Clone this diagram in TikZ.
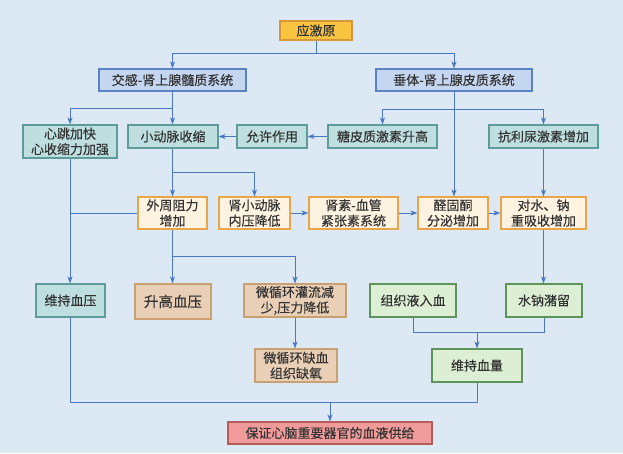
\documentclass[tikz,border=0pt]{standalone}
\usepackage{fontspec}
\setmainfont{Noto Sans CJK SC}[FakeBold=0.25]
\usetikzlibrary{arrows.meta}
\definecolor{bgc}{HTML}{DDE8F5}
\definecolor{arrc}{HTML}{4A78C0}
\definecolor{orgF}{HTML}{F9C440}\definecolor{orgD}{HTML}{D8963A}
\definecolor{bluF}{HTML}{C5D6F0}\definecolor{bluD}{HTML}{5B82C2}
\definecolor{tealF}{HTML}{BEDEDF}\definecolor{tealD}{HTML}{5E9C9C}
\definecolor{crmF}{HTML}{FEF3E0}\definecolor{crmD}{HTML}{E8A54A}
\definecolor{tanF}{HTML}{E8CFB6}\definecolor{tanD}{HTML}{C9A070}
\definecolor{grnF}{HTML}{DCEFD4}\definecolor{grnD}{HTML}{5E9459}
\definecolor{redF}{HTML}{F09A9A}\definecolor{redD}{HTML}{B65A5A}
\definecolor{txtc}{HTML}{333333}
\tikzset{
  box/.style={draw, line width=1.1pt, inner sep=0pt, align=center, text=txtc,
    font=\fontsize{13}{15.5}\selectfont},
  orgbox/.style={box, fill=orgF, draw=orgD},
  blubox/.style={box, fill=bluF, draw=bluD},
  tealbox/.style={box, fill=tealF, draw=tealD},
  crmbox/.style={box, fill=crmF, draw=crmD},
  tanbox/.style={box, fill=tanF, draw=tanD},
  grnbox/.style={box, fill=grnF, draw=grnD},
  redbox/.style={box, fill=redF, draw=redD},
  ln/.style={draw=arrc, line width=1pt},
  arr/.style={ln, -{Stealth[length=7pt,width=5pt,inset=2pt]}},
}
\begin{document}
\begin{tikzpicture}[x=1pt,y=-1pt]
\fill[bgc] (0,0) rectangle (623,453);
\useasboundingbox (0,0) rectangle (623,453);

\node[orgbox, minimum width=72pt, minimum height=19pt] (yjy) at (316,30.5) {应激原};
\node[blubox, minimum width=147pt, minimum height=22pt] (jg) at (172.5,80) {交感-肾上腺髓质系统};
\node[blubox, minimum width=156pt, minimum height=22pt] (ct) at (454,80) {垂体-肾上腺皮质系统};

\node[tealbox, minimum width=94pt, minimum height=33pt] (xt) at (70,141.5) {心跳加快\\心收缩力加强};
\node[tealbox, minimum width=90pt, minimum height=23pt] (xdm) at (173,136.5) {小动脉收缩};
\node[tealbox, minimum width=70pt, minimum height=23pt] (yx) at (272,136.5) {允许作用};
\node[tealbox, minimum width=109pt, minimum height=23pt] (tp) at (382.5,136.5) {糖皮质激素升高};
\node[tealbox, minimum width=109pt, minimum height=23pt] (kl) at (543.5,136.5) {抗利尿激素增加};

\node[crmbox, minimum width=69pt, minimum height=32pt] (wz) at (172.5,213) {外周阻力\\增加};
\node[crmbox, minimum width=71pt, minimum height=32pt] (sx) at (254.5,213) {肾小动脉\\内压降低};
\node[crmbox, minimum width=89pt, minimum height=32pt] (ss) at (353.5,213) {肾素-血管\\紧张素系统};
\node[crmbox, minimum width=70pt, minimum height=32pt] (qg) at (453,213) {醛固酮\\分泌增加};
\node[crmbox, minimum width=85pt, minimum height=32pt] (ds) at (543.5,213) {对水、钠\\重吸收增加};

\node[tealbox, minimum width=69pt, minimum height=33pt] (wxy) at (70.5,300.5) {维持血压};
\node[tanbox, minimum width=76pt, minimum height=35pt, font=\fontsize{14.5}{16}\selectfont] (sg) at (173,301.5) {升高血压};
\node[tanbox, minimum width=102pt, minimum height=33pt] (wg) at (295,300.5) {微循环灌流减\\少,压力降低};
\node[tanbox, minimum width=82pt, minimum height=33pt] (wq) at (296,365.5) {微循环缺血\\组织缺氧};

\node[grnbox, minimum width=86pt, minimum height=33pt] (zz) at (413,300.5) {组织液入血};
\node[grnbox, minimum width=76pt, minimum height=33pt] (sn) at (544,300.5) {水钠潴留};
\node[grnbox, minimum width=90pt, minimum height=33pt] (wxl) at (477,365.5) {维持血量};

\node[redbox, minimum width=204pt, minimum height=22pt] (bz) at (330,433) {保证心脑重要器官的血液供给};

% stressor split
\coordinate (b1) at (316,53);
\draw[arr] (yjy.south) -- (b1) -| (jg.north);
\draw[arr] (b1) -| (ct.north);

% sympathetic
\coordinate (b2) at (172.5,108);
\draw[arr] (jg.south) -- (jg.south |- xdm.north);
\draw[arr] (b2) -| (xt.north);

% pituitary
\coordinate (b3) at (454,109);
\draw[arr] (ct.south) -- (ct.south |- qg.north);
\draw[arr] (b3) -| (tp.north);
\draw[arr] (b3) -| (kl.north);

\draw[arr] (tp.west) -- (yx.east);
\draw[arr] (yx.west) -- (xdm.east);
\draw[arr] (kl.south) -- (ds.north);

% arteriole contraction
\coordinate (b4) at (172.5,172);
\draw[arr] (xdm.south -| wz.north) -- (wz.north);
\draw[arr] (b4) -| (sx.north);

\draw[arr] (sx.east) -- (ss.west);
\draw[arr] (ss.east) -- (qg.west);
\draw[arr] (qg.east) -- (ds.west);

% heart -> maintain BP
\draw[arr] (xt.south) -- (xt.south |- wxy.north);
\draw[ln] (wz.west) -- (wz.west -| xt.south);

% peripheral resistance
\coordinate (b5) at (172.5,256);
\draw[arr] (wz.south) -- (wz.south |- sg.north);
\draw[arr] (b5) -| (wg.north);
\draw[arr] (wg.south) -- (wg.south |- wq.north);

% water/sodium
\draw[arr] (ds.south) -- (ds.south |- sn.north);
\coordinate (j2) at (477,332);
\draw[ln] (zz.south) -- (zz.south |- j2) -- (sn.south |- j2) -- (sn.south);
\draw[arr] (j2) -- (wxl.north);

% to final
\coordinate (j3) at (330,402);
\draw[ln] (wxl.south) -- (wxl.south |- j3) -- (wxy.south |- j3) -- (wxy.south);
\draw[arr] (j3) -- (bz.north);
\end{tikzpicture}
\end{document}
